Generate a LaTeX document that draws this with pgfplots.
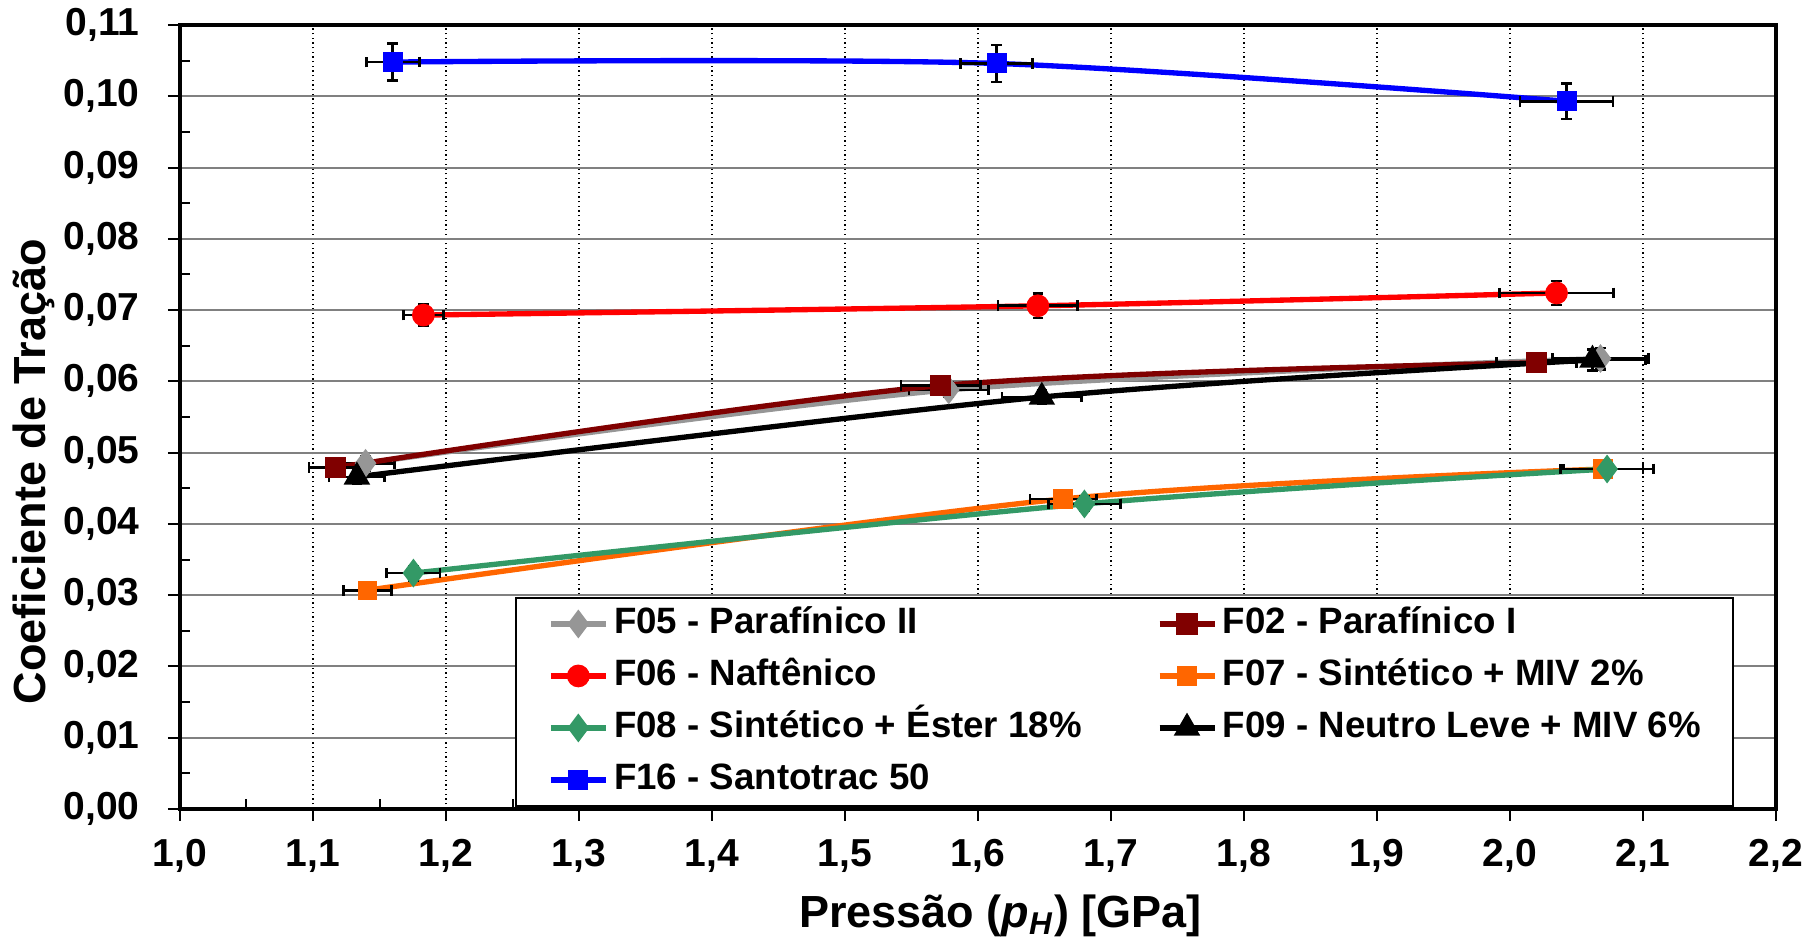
\documentclass[border=0pt]{standalone}
\usepackage{fontspec}
\setmainfont{Liberation Sans}
\usepackage{pgfplots}
\pgfplotsset{compat=1.18}
\definecolor{cgray}{HTML}{969696}
\definecolor{cdred}{HTML}{800000}
\definecolor{cred}{HTML}{FF0000}
\definecolor{corange}{HTML}{FF6600}
\definecolor{cgreen}{HTML}{339966}
\definecolor{cblue}{HTML}{0000FF}
\definecolor{cgrid}{HTML}{808080}
\begin{document}
\begin{tikzpicture}
\path[use as bounding box] (-54pt,-40.2pt) rectangle (492pt,242.7pt);
\begin{axis}[
  scale only axis,
  width=478.8pt, height=235.2pt,
  xmin=1.0, xmax=2.2, ymin=0, ymax=0.11,
  xtick={1.0,1.1,1.2,1.3,1.4,1.5,1.6,1.7,1.8,1.9,2.0,2.1,2.2},
  ytick={0,0.01,0.02,0.03,0.04,0.05,0.06,0.07,0.08,0.09,0.10,0.11},
  minor x tick num=1, minor y tick num=1,
  scaled y ticks=false, scaled x ticks=false,
  xtick pos=bottom, ytick pos=left,
  tick align=outside,
  major tick length=3.6pt, minor tick length=3pt,
  minor x tick style={yshift=3pt},
  minor y tick style={xshift=3pt},
  xmajorgrids, ymajorgrids,
  x grid style={black, densely dotted, line width=0.4pt},
  y grid style={cgrid, line width=0.6pt},
  axis line style={line width=1pt},
  tick style={black, line width=0.6pt},
  /pgf/number format/assume math mode=true,
  tick label style={font=\fontsize{11.7}{14}\selectfont\bfseries},
  xticklabel style={yshift=-2pt, /pgf/number format/.cd, fixed, fixed zerofill, precision=1, use comma},
  yticklabel style={xshift=-5pt, /pgf/number format/.cd, fixed, fixed zerofill, precision=2, use comma},
  xlabel={Pressão (\textit{p}\textsubscript{\textit{H}}) [GPa]},
  ylabel={Coeficiente de Tração},
  label style={font=\fontsize{13.5}{16}\selectfont\bfseries},
  xlabel style={at={(axis description cs:0.514,-0.136)}, anchor=center},
  ylabel style={at={(axis description cs:-0.0915,0.43)}, anchor=center},
  legend columns=2,
  legend cell align=left,
  legend style={at={(axis description cs:0.9737,0.0026)}, anchor=south east,
    draw=black, line width=0.6pt, fill=white,
    font=\fontsize{11}{13}\selectfont\bfseries,
    inner xsep=9.7pt, inner ysep=2.3pt, row sep=4.6pt,
    nodes={inner xsep=0pt, inner ysep=0pt, text height=8.5pt, text depth=2.5pt},
    /tikz/every odd column/.append style={column sep=1.7pt},
    /tikz/every even column/.append style={column sep=22.5pt}},
  legend image code/.code={\draw[mark repeat=2,mark phase=2] plot coordinates {(0pt,0pt)(8.25pt,0pt)(16.5pt,0pt)};},
  every axis plot/.append style={line width=1.6pt, smooth, tension=0.5,
    /pgfplots/error bars/x dir=both, /pgfplots/error bars/x explicit,
    /pgfplots/error bars/y dir=both, /pgfplots/error bars/y explicit,
    /pgfplots/error bars/error bar style={black, line width=0.8pt, solid},
    /pgfplots/error bars/error mark options={black, mark size=1.6pt, line width=0.8pt, rotate=90}},
]
% F05
\addplot[cgray, mark=diamond*, mark size=3pt, mark options={solid, fill=cgray}] coordinates {
  (1.1395,0.0485) +- (0.022,0.001)
  (1.578,0.0588) +- (0.030,0.001)
  (2.068,0.0632) +- (0.036,0.0015)
};
\addlegendentry{F05 - Parafínico II}
% F02
\addplot[cdred, mark=square*, mark size=2.4pt, mark options={solid, fill=cdred}] coordinates {
  (1.117,0.0479) +- (0.020,0.001)
  (1.572,0.0594) +- (0.030,0.001)
  (2.020,0.0626) +- (0.030,0.001)
};
\addlegendentry{F02 - Parafínico I}
% F06
\addplot[cred, mark=*, mark size=2.6pt, mark options={solid, fill=cred}] coordinates {
  (1.183,0.0693) +- (0.015,0.0015)
  (1.645,0.0706) +- (0.030,0.0017)
  (2.035,0.0724) +- (0.043,0.0017)
};
\addlegendentry{F06 - Naftênico}
% F07
\addplot[corange, mark=square*, mark size=2.1pt, mark options={solid, fill=corange}] coordinates {
  (1.141,0.0307) +- (0.018,0.001)
  (1.664,0.0435) +- (0.025,0.001)
  (2.070,0.0477) +- (0.030,0.001)
};
\addlegendentry{F07 - Sintético + MIV 2\%}
% F08
\addplot[cgreen, mark=diamond*, mark size=3pt, mark options={solid, fill=cgreen}] coordinates {
  (1.1755,0.0331) +- (0.020,0.001)
  (1.680,0.0428) +- (0.027,0.001)
  (2.073,0.0477) +- (0.035,0.001)
};
\addlegendentry{F08 - Sintético + Éster 18\%}
% F09
\addplot[black, mark=triangle*, mark size=3pt, mark options={solid, fill=black}] coordinates {
  (1.133,0.0466) +- (0.021,0.001)
  (1.648,0.0578) +- (0.030,0.001)
  (2.062,0.0630) +- (0.040,0.0015)
};
\addlegendentry{F09 - Neutro Leve + MIV 6\%}
% F16
\addplot[cblue, mark=square*, mark size=2.2pt, mark options={solid, fill=cblue}] coordinates {
  (1.160,0.1048) +- (0.020,0.0026)
  (1.614,0.1046) +- (0.027,0.0026)
  (2.0425,0.0993) +- (0.035,0.0025)
};
\addlegendentry{F16 - Santotrac 50}
\end{axis}
\end{tikzpicture}
\end{document}
